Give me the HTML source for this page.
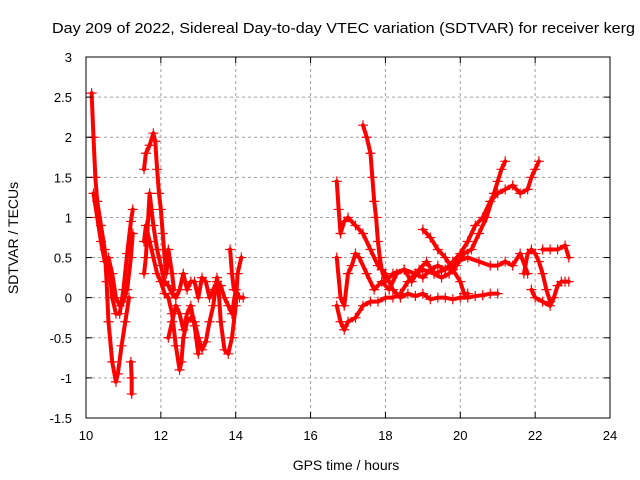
<!DOCTYPE html>
<html><head><meta charset="utf-8"><style>
body{margin:0;background:#fff}
svg{display:block;font-family:"Liberation Sans",sans-serif}
</style></head><body>
<svg id="chart" width="640" height="480" viewBox="0 0 640 480">
<rect width="640" height="480" fill="#fff"/>
<text x="52" y="33" font-size="15" textLength="583" lengthAdjust="spacingAndGlyphs" fill="#000">Day 209 of 2022, Sidereal Day-to-day VTEC variation (SDTVAR) for receiver kerg</text>
<g id="grid"></g><g id="marks"></g><g id="axes"></g>
<text x="346" y="470" font-size="14" text-anchor="middle">GPS time / hours</text>
<text transform="translate(18,238) rotate(-90)" font-size="14" text-anchor="middle">SDTVAR / TECUs</text>
</svg>
<script>
const xTicks=[10,12,14,16,18,20,22,24];
const yTicks=[-1.5,-1,-0.5,0,0.5,1,1.5,2,2.5,3];
const traceA=[[10.15,2.55],[10.2,2.0],[10.25,1.5],[10.3,1.2],[10.4,0.9],[10.5,0.6],[10.55,0.2],[10.6,-0.3],[10.7,-0.8],[10.8,-1.05],[10.85,-0.95],[10.95,-0.6],[11.05,-0.3],[11.15,0.0]];
const traceB=[[10.2,1.3],[10.3,1.0],[10.4,0.7],[10.5,0.45],[10.6,0.5],[10.7,0.3],[10.8,0.0],[10.9,-0.1],[11.0,-0.05],[11.1,0.1],[11.2,0.5],[11.25,0.8]];
const traceC=[[10.6,0.5],[10.7,0.0],[10.8,-0.2],[10.9,-0.2],[11.0,0.1],[11.1,0.55],[11.2,0.95],[11.25,1.1]];
const traceD=[[11.2,-0.8],[11.22,-1.0],[11.22,-1.2]];
const traceE=[[11.55,1.6],[11.6,1.8],[11.7,1.9],[11.8,2.05],[11.85,1.95],[11.9,1.6],[11.95,1.3],[12.0,1.1],[12.05,0.8],[12.1,0.5],[12.15,0.3],[12.2,0.6],[12.3,0.3],[12.35,0.1]];
const traceF=[[11.55,0.7],[11.6,0.9],[11.7,0.7],[11.8,0.5],[11.9,0.3],[12.0,0.2],[12.1,0.05],[12.2,0.0],[12.3,-0.2],[12.4,-0.6],[12.5,-0.9],[12.55,-0.8],[12.6,-0.5],[12.7,-0.3],[12.8,-0.25],[12.9,-0.3],[13.0,-0.5],[13.1,-0.65],[13.2,-0.55],[13.3,-0.3],[13.4,-0.1],[13.5,0.25],[13.55,0.05],[13.6,-0.3],[13.7,-0.65],[13.8,-0.7],[13.9,-0.5],[14.0,-0.1],[14.05,0.3],[14.15,0.5]];
const traceG=[[11.55,0.3],[11.6,0.5],[11.7,1.3],[11.75,1.1],[11.8,0.9],[11.9,0.6],[12.0,0.4],[12.1,0.2],[12.2,0.15],[12.3,0.05],[12.4,0.0],[12.5,0.1],[12.6,0.3],[12.7,0.1],[12.8,0.2],[12.9,0.2],[13.0,0.0],[13.1,0.25],[13.2,0.2],[13.3,0.0],[13.4,0.1],[13.5,0.2],[13.6,0.15],[13.7,0.0],[13.8,-0.1],[13.9,-0.2],[14.0,0.1],[14.1,0.0],[14.2,0.0]];
const traceH=[[12.2,-0.5],[12.3,-0.3],[12.4,-0.1],[12.5,-0.2],[12.6,-0.4],[12.7,-0.2],[12.8,-0.1],[12.9,-0.35],[13.0,-0.7]];
const traceI=[[13.85,0.6],[13.9,0.3],[13.95,0.1]];
const traceR1=[[17.4,2.15],[17.5,2.0],[17.6,1.8],[17.65,1.5],[17.7,1.2],[17.75,1.0],[17.8,0.7],[17.85,0.5],[17.9,0.35],[18.0,0.2],[18.2,0.3],[18.5,0.35],[18.8,0.3],[19.0,0.35],[19.3,0.3],[19.6,0.35],[19.9,0.45],[20.2,0.5],[20.5,0.45],[20.8,0.4],[21.0,0.4],[21.2,0.45],[21.4,0.4],[21.6,0.55],[21.8,0.3]];
const traceR2=[[16.7,1.45],[16.75,1.1],[16.8,0.8],[16.9,0.95],[17.0,1.0],[17.2,0.9],[17.4,0.8],[17.6,0.6],[17.8,0.4],[18.0,0.3],[18.2,0.1],[18.4,0.0],[18.6,0.05],[18.8,0.02],[19.0,0.05],[19.2,-0.02],[19.4,0.0],[19.6,0.0],[19.8,-0.02],[20.0,0.0],[20.2,0.0],[20.4,0.02],[20.6,0.03],[20.8,0.05],[21.0,0.05]];
const traceR3=[[16.7,0.5],[16.8,0.0],[16.9,-0.1],[17.0,0.3],[17.1,0.4],[17.2,0.55],[17.3,0.5],[17.5,0.3],[17.7,0.1],[17.9,0.2],[18.1,0.1],[18.3,0.3],[18.5,0.35],[18.7,0.2],[18.9,0.35],[19.1,0.45],[19.3,0.3],[19.5,0.25],[19.7,0.3],[19.9,0.4],[20.1,0.55],[20.3,0.6],[20.5,0.8],[20.7,1.0],[20.9,1.3],[21.0,1.45],[21.1,1.6],[21.2,1.7]];
const traceR4=[[16.7,-0.1],[16.8,-0.3],[16.9,-0.4],[17.0,-0.3],[17.2,-0.25],[17.4,-0.1],[17.6,-0.05],[17.8,-0.05],[18.0,0.0],[18.2,0.0],[18.4,0.05],[18.6,0.2],[18.8,0.3],[19.0,0.25],[19.2,0.35],[19.4,0.4],[19.6,0.35],[19.8,0.45],[20.0,0.55],[20.2,0.7],[20.4,0.9],[20.6,1.0],[20.8,1.2],[21.0,1.3],[21.2,1.35],[21.4,1.4],[21.6,1.3],[21.8,1.35],[21.9,1.5],[22.0,1.6],[22.1,1.7]];
const traceR5=[[19.0,0.85],[19.2,0.75],[19.4,0.6],[19.6,0.5],[19.8,0.35],[20.0,0.2],[20.1,0.05],[20.2,0.05]];
const traceR6=[[21.9,0.1],[22.0,0.0],[22.2,-0.05],[22.4,-0.1],[22.5,0.0],[22.6,0.15],[22.7,0.2],[22.8,0.2],[22.9,0.2]];
const traceR7=[[21.7,0.3],[21.8,0.55],[21.9,0.6],[22.0,0.55],[22.1,0.45],[22.2,0.3],[22.3,0.1],[22.4,-0.05]];
const traceR8=[[22.2,0.6],[22.4,0.6],[22.6,0.6],[22.8,0.65],[22.9,0.5]];
const traces=[traceA,traceB,traceC,traceD,traceE,traceF,traceG,traceH,traceI,traceR1,traceR2,traceR3,traceR4,traceR5,traceR6,traceR7,traceR8];

const X0=86,X1=610,Y0=418,Y1=57;
const xs=v=>X0+(v-10)/(24-10)*(X1-X0);
const ys=v=>Y0-(v+1.5)/(3+1.5)*(Y0-Y1);
const NS='http://www.w3.org/2000/svg';
function mk(t,a,p){const e=document.createElementNS(NS,t);for(const k in a)e.setAttribute(k,a[k]);p.appendChild(e);return e;}
const grid=document.getElementById('grid'),axes=document.getElementById('axes'),marks=document.getElementById('marks');
xTicks.forEach(t=>{const x=xs(t);
 if(t>10&&t<24){const g=mk('line',{x1:x,x2:x,y1:Y1,y2:Y0,stroke:'#a0a0a0','stroke-dasharray':'3,3'},grid);
 
 }
 mk('line',{x1:x,x2:x,y1:Y0,y2:Y0-6,stroke:'#000'},axes);
 mk('line',{x1:x,x2:x,y1:Y1,y2:Y1+6,stroke:'#000'},axes);
 const l=mk('text',{x:x,y:Y0+22,'font-size':13,'text-anchor':'middle'},axes);l.textContent=t;
 
 });
yTicks.forEach(t=>{const y=ys(t);
 if(t>-1.5&&t<3){const g=mk('line',{x1:X0,x2:X1,y1:y,y2:y,stroke:'#a0a0a0','stroke-dasharray':'3,3'},grid);
 
 }
 mk('line',{x1:X0,x2:X0+6,y1:y,y2:y,stroke:'#000'},axes);
 mk('line',{x1:X1,x2:X1-6,y1:y,y2:y,stroke:'#000'},axes);
 const l=mk('text',{x:X0-14,y:y+5,'font-size':13,'text-anchor':'end'},axes);l.textContent=t;
 
 });
const fr=mk('rect',{x:X0,y:Y1,width:X1-X0,height:Y0-Y1,fill:'none',stroke:'#000'},axes);


traces.forEach((tr,i)=>{
 const g=mk('g',{},marks);
 
 
 mk('polyline',{points:tr.map(p=>xs(p[0])+','+ys(p[1])).join(' '),fill:'none',stroke:'#f00','stroke-width':4,'stroke-linejoin':'round','stroke-linecap':'round'},g);
 let d='';tr.forEach(p=>{const x=xs(p[0]),y=ys(p[1]);d+=`M${x-5},${y}h10M${x},${y-5}v10`;});
 mk('path',{d:d,stroke:'#f00','stroke-width':1.2,fill:'none'},g);
});
</script>
</body></html>
